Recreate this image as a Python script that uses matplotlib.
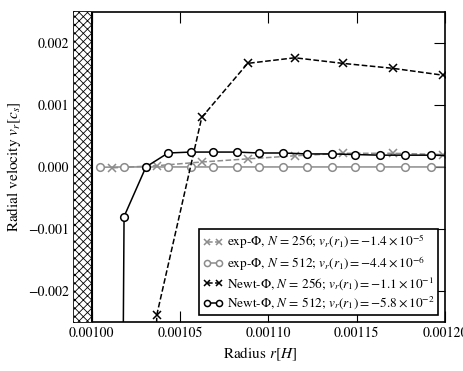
import matplotlib
matplotlib.use("Agg")
import matplotlib.pyplot as plt

plt.rcParams['font.family'] = ['STIXGeneral', 'DejaVu Serif']
plt.rcParams['mathtext.fontset'] = 'stix'
plt.rcParams['hatch.linewidth'] = 0.6

# radii of cell centres
r_512 = [0.0010047, 0.0010183, 0.0010307, 0.0010432, 0.0010562, 0.0010686,
         0.0010823, 0.0010947, 0.0011083, 0.0011219, 0.0011360, 0.0011490,
         0.0011632, 0.0011774, 0.0011920, 0.0012068]
r_256 = [0.0010117, 0.0010368, 0.0010623, 0.0010883, 0.0011150, 0.0011421,
         0.0011705, 0.0011987, 0.0012270]

# radial velocities
v_exp_256 = [-1.4e-5, 0.00002, 0.00008, 0.00013, 0.00018, 0.00022, 0.00022,
             0.00020, 0.00019]
v_exp_512 = [-4.4e-6, 0.0, 0.0, 0.0, 0.0, 0.0, 0.0, 0.0, 0.0, 0.0, 0.0, 0.0,
             0.0, 0.0, 0.0, 0.0]
v_newt_256 = [-0.11, -0.00239, 0.00080, 0.00167, 0.00176, 0.00167, 0.00159,
              0.00148, 0.00140]
v_newt_512 = [-0.058, -0.00080, 0.0, 0.000225, 0.00024, 0.00024, 0.00024,
              0.000225, 0.000225, 0.00021, 0.00021, 0.00020, 0.00019, 0.00019,
              0.00019, 0.00018]

labels = [r'exp-$\Phi$, $N$ = 256; $v_r(r_1) = -1.4\times10^{-5}$',
          r'exp-$\Phi$, $N$ = 512; $v_r(r_1) = -4.4\times10^{-6}$',
          r'Newt-$\Phi$, $N$ = 256; $v_r(r_1) = -1.1\times10^{-1}$',
          r'Newt-$\Phi$, $N$ = 512; $v_r(r_1) = -5.8\times10^{-2}$']

r_inner = 0.001
grey = '#8c8c8c'

fig = plt.figure(figsize=(4.63, 3.71), dpi=100)
ax = fig.add_axes([0.160, 0.132, 0.801, 0.836])

ax.plot(r_256, v_exp_256, '--', color=grey, marker='x', ms=6, mew=1.1, lw=1.1, label=labels[0])
ax.plot(r_512, v_exp_512, '-', color=grey, marker='o', ms=5.5, mfc='white', mec=grey,
        mew=1.1, lw=1.1, label=labels[1])
ax.plot(r_256, v_newt_256, '--', color='k', marker='x', ms=6, mew=1.1, lw=1.1, label=labels[2])
ax.plot(r_512, v_newt_512, '-', color='k', marker='o', ms=5.5, mfc='white', mec='k',
        mew=1.1, lw=1.1, label=labels[3])

# excised inner region
ax.axvspan(0.00099, r_inner, facecolor='white', edgecolor='k', hatch='xxxx', lw=0, zorder=3)
ax.axvline(r_inner, color='k', lw=1.5, zorder=4)

ax.set_xlim(0.00099, 0.0012)
ax.set_ylim(-0.0025, 0.0025)
ax.set_xticks([0.00100, 0.00105, 0.00110, 0.00115, 0.00120])
ax.set_xticklabels(['0.00100', '0.00105', '0.00110', '0.00115', '0.00120'])
ax.set_yticks([-0.002, -0.001, 0.0, 0.001, 0.002])
ax.set_yticklabels(['\u22120.002', '\u22120.001', '0.000', '0.001', '0.002'])
ax.tick_params(direction='in', length=8, top=True, right=True, labelsize=10)
for s in ax.spines.values():
    s.set_linewidth(1.2)

ax.set_xlabel(r'Radius $r[H]$', fontsize=11)
ax.set_ylabel(r'Radial velocity $v_r[c_s]$', fontsize=11)

leg = ax.legend(loc='lower right', fontsize=9.5, numpoints=2, fancybox=False,
                edgecolor='k', framealpha=1, borderaxespad=0.5, handlelength=1.5,
                handletextpad=0.3, borderpad=0.3, labelspacing=0.2, markerscale=0.8)
leg.get_frame().set_linewidth(1.2)

fig.savefig('out.png', dpi=100)
